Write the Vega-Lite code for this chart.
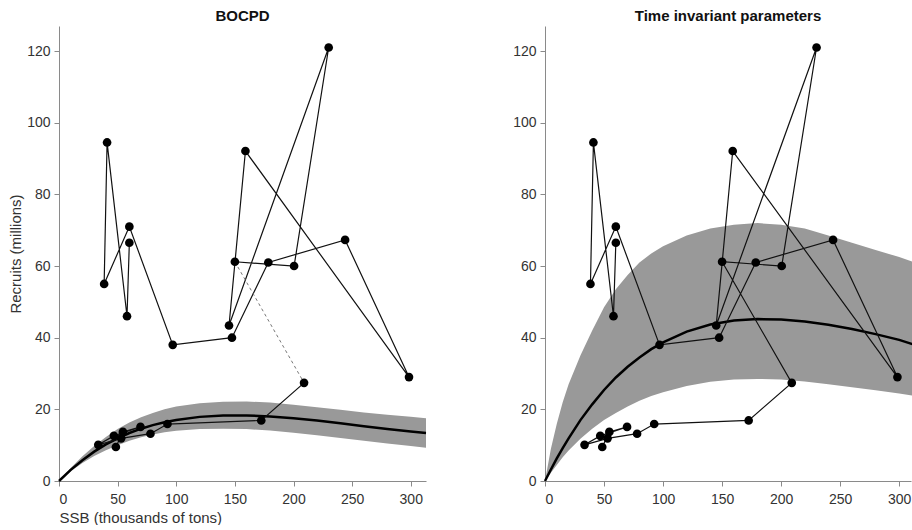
{
  "$schema": "https://vega.github.io/schema/vega-lite/v6.json",
  "background": "white",
  "padding": {"left": 8, "top": 9, "right": 0, "bottom": 0},
  "config": {
    "view": {"stroke": null},
    "font": "Liberation Sans",
    "axis": {"grid": false, "domainColor": "#8a8a8a", "tickColor": "#8a8a8a", "labelColor": "#333333", "labelFontSize": 14, "titleFontSize": 15, "titleFontWeight": "normal", "titleColor": "#333333", "tickSize": 5, "labelPadding": 4},
    "axisX": {"labelPadding": 6},
    "title": {"fontSize": 15, "fontWeight": "bold", "color": "#111111", "offset": 2},
    "concat": {"spacing": 81}
  },
  "datasets": {
    "pts": [
      {"t": 1, "x": 60, "y": 66.5},
      {"t": 2, "x": 58, "y": 46},
      {"t": 3, "x": 41, "y": 94.5},
      {"t": 4, "x": 38.5, "y": 55},
      {"t": 5, "x": 60, "y": 71},
      {"t": 6, "x": 97, "y": 38},
      {"t": 7, "x": 147.5, "y": 40},
      {"t": 8, "x": 178.5, "y": 61},
      {"t": 9, "x": 244, "y": 67.3},
      {"t": 10, "x": 298.5, "y": 29},
      {"t": 11, "x": 159, "y": 92.1},
      {"t": 12, "x": 145, "y": 43.4},
      {"t": 13, "x": 230, "y": 121},
      {"t": 14, "x": 200.5, "y": 60},
      {"t": 15, "x": 150, "y": 61.2},
      {"t": 16, "x": 209, "y": 27.4},
      {"t": 17, "x": 172.5, "y": 16.9},
      {"t": 18, "x": 92.5, "y": 15.9},
      {"t": 19, "x": 78, "y": 13.2},
      {"t": 20, "x": 53, "y": 11.9},
      {"t": 21, "x": 33.5, "y": 10.1},
      {"t": 22, "x": 46.8, "y": 12.6},
      {"t": 23, "x": 69.5, "y": 15.1},
      {"t": 24, "x": 54.5, "y": 13.7},
      {"t": 25, "x": 48.5, "y": 9.5}
    ],
    "fitL": [
      {"x": 0, "lo": 0, "y": 0, "hi": 0},
      {"x": 10, "lo": 2.7, "y": 3.1, "hi": 3.6},
      {"x": 20, "lo": 5.0, "y": 5.8, "hi": 6.9},
      {"x": 30, "lo": 7.0, "y": 8.2, "hi": 9.8},
      {"x": 40, "lo": 8.6, "y": 10.2, "hi": 12.3},
      {"x": 50, "lo": 10.0, "y": 11.9, "hi": 14.5},
      {"x": 60, "lo": 11.2, "y": 13.4, "hi": 16.3},
      {"x": 70, "lo": 12.2, "y": 14.6, "hi": 17.8},
      {"x": 80, "lo": 13.0, "y": 15.6, "hi": 19.0},
      {"x": 90, "lo": 13.6, "y": 16.4, "hi": 20.0},
      {"x": 100, "lo": 14.0, "y": 17.0, "hi": 20.8},
      {"x": 120, "lo": 14.5, "y": 17.9, "hi": 21.7},
      {"x": 140, "lo": 14.6, "y": 18.3, "hi": 22.1},
      {"x": 160, "lo": 14.5, "y": 18.3, "hi": 22.2},
      {"x": 180, "lo": 14.1, "y": 18.0, "hi": 21.9},
      {"x": 200, "lo": 13.5, "y": 17.5, "hi": 21.3},
      {"x": 220, "lo": 12.8, "y": 16.9, "hi": 20.6},
      {"x": 240, "lo": 12.0, "y": 16.1, "hi": 19.9},
      {"x": 260, "lo": 11.2, "y": 15.3, "hi": 19.1},
      {"x": 280, "lo": 10.5, "y": 14.5, "hi": 18.5},
      {"x": 300, "lo": 9.8, "y": 13.8, "hi": 17.9},
      {"x": 313, "lo": 9.3, "y": 13.4, "hi": 17.5}
    ],
    "fitR": [
      {"x": 0, "lo": 0, "y": 0, "hi": 0},
      {"x": 5, "lo": 2.3, "y": 3.2, "hi": 9},
      {"x": 10, "lo": 4.5, "y": 6.3, "hi": 16},
      {"x": 15, "lo": 6.6, "y": 9.2, "hi": 22},
      {"x": 20, "lo": 8.5, "y": 11.9, "hi": 27},
      {"x": 30, "lo": 11.8, "y": 17.0, "hi": 35},
      {"x": 40, "lo": 14.6, "y": 21.4, "hi": 42},
      {"x": 50, "lo": 17.0, "y": 25.4, "hi": 48.5},
      {"x": 60, "lo": 19.0, "y": 28.9, "hi": 53.5},
      {"x": 70, "lo": 20.8, "y": 31.9, "hi": 57.5},
      {"x": 80, "lo": 22.4, "y": 34.5, "hi": 61},
      {"x": 90, "lo": 23.7, "y": 36.8, "hi": 63.5},
      {"x": 100, "lo": 24.8, "y": 38.7, "hi": 65.5},
      {"x": 120, "lo": 26.5, "y": 41.7, "hi": 68.5},
      {"x": 140, "lo": 27.7, "y": 43.7, "hi": 70.5},
      {"x": 160, "lo": 28.3, "y": 44.8, "hi": 71.5},
      {"x": 180, "lo": 28.5, "y": 45.2, "hi": 72},
      {"x": 200, "lo": 28.3, "y": 45.1, "hi": 71.5},
      {"x": 220, "lo": 27.8, "y": 44.5, "hi": 70.5},
      {"x": 240, "lo": 27.0, "y": 43.6, "hi": 68.5},
      {"x": 260, "lo": 26.2, "y": 42.4, "hi": 66.5},
      {"x": 280, "lo": 25.3, "y": 41.0, "hi": 64.5},
      {"x": 300, "lo": 24.4, "y": 39.4, "hi": 62.5},
      {"x": 313, "lo": 23.8, "y": 38.0, "hi": 61}
    ]
  },
  "hconcat": [
    {
      "title": "BOCPD",
      "width": 367,
      "height": 455,
      "encoding": {
        "x": {"field": "x", "type": "quantitative", "scale": {"domain": [0, 313], "nice": false}, "axis": {"values": [0, 50, 100, 150, 200, 250, 300], "title": "SSB (thousands of tons)", "titleAnchor": "start", "titlePadding": 4}},
        "y": {"field": "y", "type": "quantitative", "scale": {"domain": [0, 127], "nice": false}, "axis": {"values": [0, 20, 40, 60, 80, 100, 120], "title": "Recruits (millions)", "titlePadding": 3}}
      },
      "layer": [
        {"data": {"name": "fitL"}, "mark": {"type": "area", "color": "#999999", "opacity": 1}, "encoding": {"y": {"field": "lo", "type": "quantitative"}, "y2": {"field": "hi"}}},
        {"data": {"name": "fitL"}, "mark": {"type": "line", "color": "#000000", "strokeWidth": 2.5}},
        {"data": {"name": "pts"}, "transform": [{"filter": "datum.t <= 15"}], "mark": {"type": "line", "color": "#111111", "strokeWidth": 1.2}, "encoding": {"order": {"field": "t", "type": "quantitative"}}},
        {"data": {"name": "pts"}, "transform": [{"filter": "datum.t >= 16"}], "mark": {"type": "line", "color": "#111111", "strokeWidth": 1.2}, "encoding": {"order": {"field": "t", "type": "quantitative"}}},
        {"data": {"name": "pts"}, "transform": [{"filter": "datum.t == 15 || datum.t == 16"}], "mark": {"type": "line", "color": "#777777", "strokeWidth": 1, "strokeDash": [3, 3]}, "encoding": {"order": {"field": "t", "type": "quantitative"}}},
        {"data": {"name": "pts"}, "mark": {"type": "circle", "color": "#000000", "opacity": 1, "size": 75}}
      ]
    },
    {
      "title": "Time invariant parameters",
      "width": 366,
      "height": 455,
      "encoding": {
        "x": {"field": "x", "type": "quantitative", "scale": {"domain": [0, 310], "nice": false}, "axis": {"values": [0, 50, 100, 150, 200, 250, 300], "title": null}},
        "y": {"field": "y", "type": "quantitative", "scale": {"domain": [0, 127], "nice": false}, "axis": {"values": [0, 20, 40, 60, 80, 100, 120], "title": null}}
      },
      "layer": [
        {"data": {"name": "fitR"}, "mark": {"type": "area", "color": "#999999", "opacity": 1}, "encoding": {"y": {"field": "lo", "type": "quantitative"}, "y2": {"field": "hi"}}},
        {"data": {"name": "fitR"}, "mark": {"type": "line", "color": "#000000", "strokeWidth": 2.5}},
        {"data": {"name": "pts"}, "mark": {"type": "line", "color": "#111111", "strokeWidth": 1.2}, "encoding": {"order": {"field": "t", "type": "quantitative"}}},
        {"data": {"name": "pts"}, "mark": {"type": "circle", "color": "#000000", "opacity": 1, "size": 75}}
      ]
    }
  ]
}
